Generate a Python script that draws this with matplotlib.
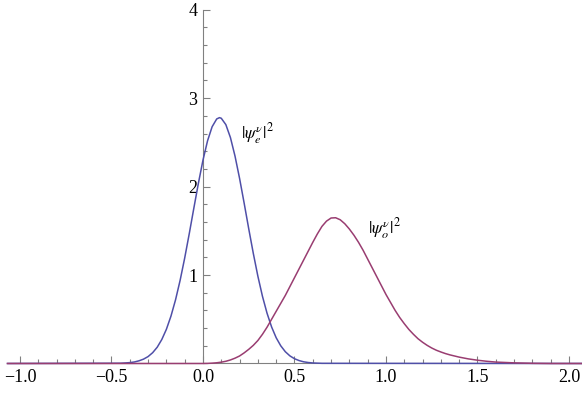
import numpy as np
import matplotlib.pyplot as plt
from matplotlib.ticker import MultipleLocator

# valeurs
x_e = [-1.068, -0.45, -0.425, -0.40, -0.375, -0.35, -0.325, -0.30, -0.275, -0.25, -0.225,
       -0.20, -0.175, -0.15, -0.125, -0.10, -0.075, -0.05, -0.025, 0.0, 0.025, 0.05,
       0.075, 0.09, 0.10, 0.125, 0.15, 0.175, 0.20, 0.225, 0.25, 0.275, 0.30, 0.325,
       0.35, 0.375, 0.40, 0.425, 0.45, 0.475, 0.50, 0.525, 0.55, 0.575, 0.60, 0.65, 2.071]
y_e = [0.0, 0.003, 0.006, 0.010, 0.017, 0.030, 0.049, 0.078, 0.122, 0.184, 0.271,
       0.386, 0.535, 0.719, 0.939, 1.191, 1.467, 1.755, 2.038, 2.299, 2.518, 2.677,
       2.765, 2.78, 2.773, 2.701, 2.555, 2.346, 2.093, 1.813, 1.524, 1.245, 0.987, 0.760,
       0.569, 0.413, 0.291, 0.200, 0.133, 0.086, 0.054, 0.033, 0.019, 0.011, 0.006, 0.002, 0.0]

x_o = [-1.068, 0.0, 0.025, 0.05, 0.075, 0.10, 0.125, 0.15, 0.175, 0.20, 0.225, 0.25, 0.275,
       0.30, 0.325, 0.35, 0.375, 0.40, 0.425, 0.45, 0.475, 0.50, 0.525, 0.55, 0.575,
       0.60, 0.625, 0.65, 0.675, 0.70, 0.725, 0.75, 0.775, 0.80, 0.825, 0.85, 0.875,
       0.90, 0.925, 0.95, 0.975, 1.00, 1.025, 1.05, 1.075, 1.10, 1.125, 1.15, 1.175,
       1.20, 1.225, 1.25, 1.275, 1.30, 1.325, 1.35, 1.40, 1.45, 1.50, 1.55, 1.60,
       1.70, 1.80, 1.90, 2.071]
y_o = [0.0, 0.0, 0.001, 0.004, 0.008, 0.015, 0.025, 0.04, 0.06, 0.085, 0.12, 0.16, 0.205,
       0.26, 0.33, 0.41, 0.50, 0.59, 0.68, 0.77, 0.87, 0.97, 1.07, 1.17, 1.27,
       1.37, 1.465, 1.55, 1.61, 1.645, 1.648, 1.625, 1.58, 1.52, 1.45, 1.37, 1.28,
       1.18, 1.08, 0.98, 0.88, 0.78, 0.69, 0.60, 0.52, 0.45, 0.385, 0.33, 0.28,
       0.24, 0.205, 0.175, 0.15, 0.13, 0.112, 0.097, 0.072, 0.052, 0.037, 0.025, 0.016,
       0.007, 0.002, 0.0, 0.0]

x_ticks = [-1.0, -0.5, 0.0, 0.5, 1.0, 1.5, 2.0]
y_ticks = [1, 2, 3, 4]

plt.rcParams['font.family'] = ['Liberation Serif', 'DejaVu Serif']
plt.rcParams['mathtext.fontset'] = 'stix'

fig = plt.figure(figsize=(5.82, 3.99), dpi=100)
ax = fig.add_axes([0.0129, 0.089, 0.9871, 0.891])

ax.plot(x_e, y_e, color='#4f4fa8', lw=1.1, clip_on=False, zorder=3)
ax.plot(x_o, y_o, color='#993d71', lw=1.1, clip_on=False, zorder=3)

ax.set_xlim(-1.068, 2.071)
ax.set_ylim(0, 4.02)

for s in ['top', 'right']:
    ax.spines[s].set_visible(False)
ax.spines['left'].set_position(('data', 0))
ax.spines['bottom'].set_position(('data', 0))
ax.spines['left'].set_bounds(0, 4)
for s in ['left', 'bottom']:
    ax.spines[s].set_color('#808080')
    ax.spines[s].set_linewidth(0.8)

ax.set_xticks(x_ticks)
ax.set_xticklabels([f'{v:.1f}'.replace('-', '\u2212') for v in x_ticks])
ax.set_yticks(y_ticks)
ax.set_yticklabels([str(v) for v in y_ticks])
ax.xaxis.set_minor_locator(MultipleLocator(0.1))
ax.yaxis.set_minor_locator(MultipleLocator(0.2))
ax.tick_params(which='both', direction='in', color='#808080', width=0.8, labelsize=13)
ax.tick_params(which='major', length=5, pad=4)
ax.tick_params(which='minor', length=3)

ax.text(0.21, 2.6, r'$|\psi_e^\nu|^2$', fontsize=12.5, va='center', ha='left')
ax.text(0.90, 1.53, r'$|\psi_o^\nu|^2$', fontsize=12.5, va='center', ha='left')

plt.savefig('out.png', dpi=100)
